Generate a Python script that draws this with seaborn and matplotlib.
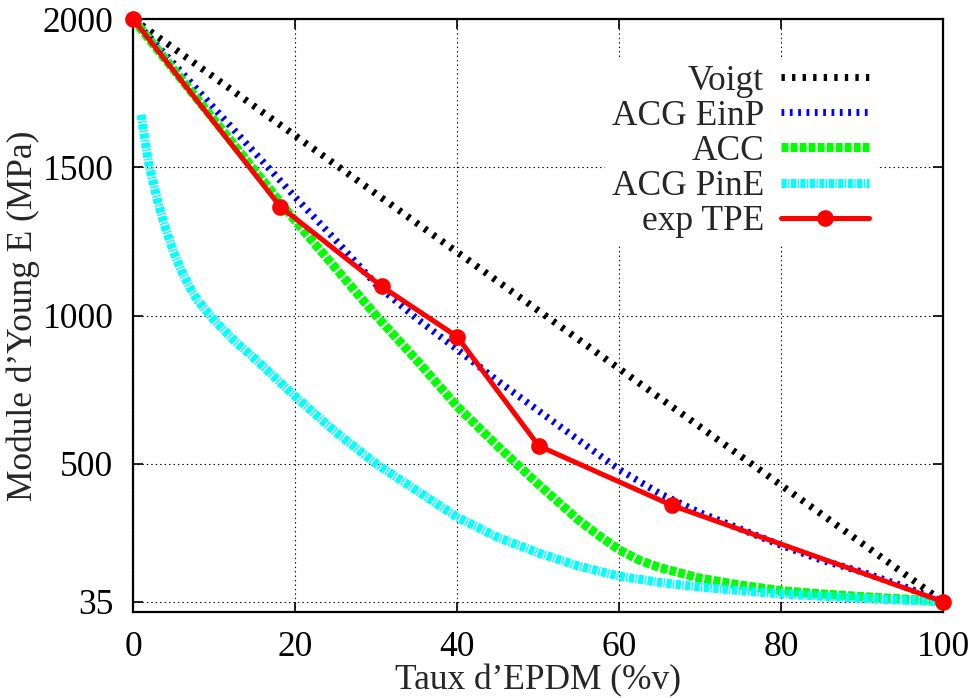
import numpy as np
import pandas as pd
import matplotlib
matplotlib.use("Agg")
import matplotlib.pyplot as plt
import seaborn as sns

# ---- data ----
voigt_x = [0, 100]
voigt_y = [2000, 35]

einp_x = [0, 5, 10, 15, 20, 25, 30, 35, 40, 45, 50, 55, 60, 65, 70, 75, 80, 85, 90, 95, 100]
einp_y = [2000, 1850, 1700, 1550, 1400, 1255, 1105, 990, 886, 780, 680, 580, 481, 400, 335, 280, 225, 175, 135, 88, 35]

acc_x = [0, 5, 10, 15, 20, 25, 30, 35, 40, 45, 50, 55, 57.5, 60, 62.5, 65, 70, 75, 80, 85, 90, 95, 100]
acc_y = [2000, 1830, 1660, 1490, 1320, 1160, 1000, 850, 694, 560, 432, 310, 258, 210, 175, 150, 114, 91, 72, 61, 52, 44, 35]

pine_x = [1, 1.5, 2, 3, 4, 5, 6, 7, 8, 10, 12.5, 15, 20, 25, 30, 35, 40, 45, 50, 55, 60, 65, 70, 75, 80, 85, 90, 95, 100]
pine_y = [1677, 1585, 1505, 1390, 1295, 1215, 1150, 1095, 1050, 985, 915, 855, 728, 607, 500, 410, 320, 252, 200, 155, 121, 100, 84, 72, 61, 53, 46, 40, 35]

exp_x = [0, 18.2, 30.7, 40, 50.1, 66.5, 100]
exp_y = [2000, 1367, 1098, 929, 560, 360, 35]

labels = ["Voigt", "ACG EinP", "ACC", "ACG PinE", "exp TPE"]
x_ticks = [0, 20, 40, 60, 80, 100]
y_ticks = [35, 500, 1000, 1500, 2000]

# ---- style ----
sns.set_theme(style="ticks")
plt.rcParams["font.family"] = ["Liberation Serif", "DejaVu Serif"]
plt.rcParams["lines.scale_dashes"] = False

FS = 25.5

fig = plt.figure(figsize=(9.75, 6.98), dpi=100)
ax = fig.add_axes([133/975, 1 - 612/698, (943-133)/975, (612-19)/698])

df_v = pd.DataFrame({"x": voigt_x, "y": voigt_y})
df_b = pd.DataFrame({"x": einp_x, "y": einp_y})
df_g = pd.DataFrame({"x": acc_x, "y": acc_y})
df_c = pd.DataFrame({"x": pine_x, "y": pine_y})
df_e = pd.DataFrame({"x": exp_x, "y": exp_y})

sns.lineplot(data=df_v, x="x", y="y", ax=ax, color="#000000", lw=5.0,
             linestyle=(0, (2.4, 5.2)), label=labels[0], zorder=3)
sns.lineplot(data=df_b, x="x", y="y", ax=ax, color="#0000ff", lw=5.0,
             linestyle=(0, (2.0, 4.0)), label=labels[1], zorder=3)
sns.lineplot(data=df_g, x="x", y="y", ax=ax, color="#00ff00", lw=6.5,
             linestyle=(0, (5.0, 1.5)), label=labels[2], zorder=3)
sns.lineplot(data=df_c, x="x", y="y", ax=ax, color="#00ffff", lw=6.5,
             linestyle=(0, (3.8, 1.0, 1.0, 1.0)), label=labels[3], zorder=3)
sns.lineplot(data=df_e, x="x", y="y", ax=ax, color="#ff0000", lw=3.6,
             marker="o", markersize=12, markeredgewidth=0, label=labels[4],
             zorder=4, clip_on=False)

ax.set_xlim(0, 100)
ax.set_ylim(0, 2000)
ax.set_xticks(x_ticks)
ax.set_xticklabels([str(t) for t in x_ticks])
ax.set_yticks(y_ticks)
ax.set_yticklabels([str(t) for t in y_ticks])

ax.grid(True, color="black", linestyle=(0, (1, 2.2)), linewidth=0.8)
ax.set_axisbelow(True)

for s in ax.spines.values():
    s.set_color("black")
    s.set_linewidth(1.6)

ax.tick_params(axis="both", which="major", direction="in", length=7, width=1.2,
               labelsize=FS, pad=14, top=True, right=True, colors="black")

ax.set_xlabel("Taux d\u2019EPDM (%v)", fontsize=FS, labelpad=0)
ax.set_ylabel("Module d\u2019Young E (MPa)", fontsize=FS, labelpad=2)

leg = ax.legend(loc="upper right", bbox_to_anchor=(0.918, 0.935),
                markerfirst=False, frameon=True, facecolor="white",
                edgecolor="none", framealpha=1, fancybox=False,
                handlelength=2.5, handletextpad=0.48, labelspacing=0.06,
                borderpad=0.2, borderaxespad=0, fontsize=FS)

fig.savefig("out.png", dpi=100)
